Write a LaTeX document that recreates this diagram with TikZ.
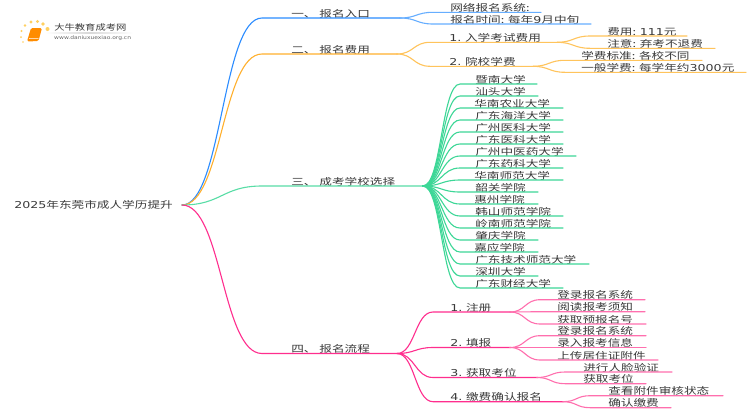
\documentclass[tikz,border=0pt]{standalone}
\usepackage{fontspec}
\setmainfont{Noto Sans CJK SC}
\newfontfamily\digitfont{DejaVu Sans}
\usetikzlibrary{calc}
\definecolor{txt}{HTML}{3A3A3A}
\definecolor{cblue}{HTML}{2B8CFF}
\definecolor{cblueb}{HTML}{66AEFF}
\definecolor{corange}{HTML}{FFB02E}
\definecolor{corangeb}{HTML}{FFC45C}
\definecolor{cgreen}{HTML}{58DDA6}
\definecolor{cgreenb}{HTML}{3DD797}
\definecolor{cpink}{HTML}{FF2E8E}
\definecolor{cpinkb}{HTML}{FF6FAE}
\definecolor{logoy}{HTML}{FFD060}
\tikzset{
  lbl/.style={anchor=west,inner sep=0pt,text=txt,font=\fontsize{9.5}{10}\selectfont,xscale=1.33,transform shape},
  wire/.style={line width=1.1pt,line cap=round},
}
% #1 name, #2 parent, #3 colour, #4 line start x, #5 line y, #6 line end x, #7 text x, #8 text
\newcommand\leaf[8]{%
  \coordinate (#1-s) at (#4,#5);
  \coordinate (#1) at (#6,#5);
  \node[lbl] (#1-t) at (#7,#5-4.5) {#8};
  \draw[wire,#3] let \p1=(#2),\p2=(#1-s) in
    (#2) .. controls ({(\x1+\x2)/2},\y1) and ({(\x1+\x2)/2},\y2) .. (#1-s) -- (#1);
}
\newcommand\dg[1]{{\digitfont #1}}
\begin{document}
\begin{tikzpicture}[x=1pt,y=-1pt]
\useasboundingbox (0,0) rectangle (750,410);
\fill[white] (0,0) rectangle (750,410);
% logo
\foreach \x/\y/\r in {21/37/1,21.5/31/1.2,25/25.5/1.4,31/22/1.6,37.5/21.5/1.7,43/24/1.8,47.5/29/2,23/42/0.9}
  \fill[logoy] (\x,\y) circle (\r);
\fill[orange!90!yellow,rounded corners=1.5pt] (31,28) -- (42,28) -- (38.5,41) -- (27,41.5) -- cycle;
\draw[white,line width=.5pt] (29,38.5) -- (38.5,38.3);
\shade[left color=white,right color=white,middle color=black!15,draw=none] (45,32.6) rectangle (133,33.4);
\node[lbl,font=\fontsize{8}{9}\selectfont,xscale=0.97] (logoa) at (54,27) {大牛教育成考网};
\node[lbl,font=\fontsize{5}{6}\selectfont\digitfont,xscale=0.9,text=black!60] (logob) at (54,38.5) {www.daniuxuexiao.org.cn};
% root
\node[lbl] (root-t) at (14,204.5) {\dg{2025}年东莞市成人学历提升};
\coordinate (root) at (182,205);
% level 1
\leaf{a}{root}{cblue}{262}{18}{400}{291}{一、 报名入口}
\leaf{b}{root}{corange}{262}{54}{397}{291}{二、 报名费用}
\leaf{c}{root}{cgreen}{262}{186}{423}{291}{三、 成考学校选择}
\leaf{d}{root}{cpink}{262}{353.5}{397}{291}{四、 报名流程}
% blue
\leaf{a1}{a}{cblueb}{433}{12.3}{541}{450}{网络报名系统:}
\leaf{a2}{a}{cblueb}{433}{24}{591}{450}{报名时间: 每年\dg{9}月中旬}
% orange
\leaf{b1}{b}{corangeb}{430}{42.3}{557}{449}{\dg{1.} 入学考试费用}
\leaf{b2}{b}{corangeb}{430}{66.3}{533}{449}{\dg{2.} 院校学费}
\leaf{b11}{b1}{corangeb}{590}{36}{687}{607}{费用: \dg{111}元}
\leaf{b12}{b1}{corangeb}{590}{48.3}{715}{607}{注意: 弃考不退费}
\leaf{b21}{b2}{corangeb}{565}{60.3}{702}{581}{学费标准: 各校不同}
\leaf{b22}{b2}{corangeb}{565}{72.3}{746}{581}{一般学费: 每学年约\dg{3000}元}
% green
\leaf{s1}{c}{cgreenb}{460}{84}{537}{475}{暨南大学}
\leaf{s2}{c}{cgreenb}{460}{96}{538}{475}{汕头大学}
\leaf{s3}{c}{cgreenb}{460}{108}{563}{474}{华南农业大学}
\leaf{s4}{c}{cgreenb}{460}{120}{563}{475}{广东海洋大学}
\leaf{s5}{c}{cgreenb}{460}{132}{563}{475}{广州医科大学}
\leaf{s6}{c}{cgreenb}{460}{144}{563}{475}{广东医科大学}
\leaf{s7}{c}{cgreenb}{460}{156}{576}{475}{广州中医药大学}
\leaf{s8}{c}{cgreenb}{460}{168}{563}{475}{广东药科大学}
\leaf{s9}{c}{cgreenb}{460}{180}{563}{474}{华南师范大学}
\leaf{s10}{c}{cgreenb}{460}{192}{538}{475}{韶关学院}
\leaf{s11}{c}{cgreenb}{460}{204}{538}{474}{惠州学院}
\leaf{s12}{c}{cgreenb}{460}{216}{563}{475}{韩山师范学院}
\leaf{s13}{c}{cgreenb}{460}{228}{563}{475}{岭南师范学院}
\leaf{s14}{c}{cgreenb}{460}{240}{538}{475}{肇庆学院}
\leaf{s15}{c}{cgreenb}{460}{252}{538}{474}{嘉应学院}
\leaf{s16}{c}{cgreenb}{460}{264}{589}{475}{广东技术师范大学}
\leaf{s17}{c}{cgreenb}{460}{276}{538}{475}{深圳大学}
\leaf{s18}{c}{cgreenb}{460}{288}{563}{475}{广东财经大学}
% pink
\leaf{d1}{d}{cpink}{433}{312}{510}{450}{\dg{1.} 注册}
\leaf{d2}{d}{cpink}{433}{347.5}{510}{450}{\dg{2.} 填报}
\leaf{d3}{d}{cpink}{433}{377.5}{537}{450}{\dg{3.} 获取考位}
\leaf{d4}{d}{cpink}{433}{401.7}{563}{450}{\dg{4.} 缴费确认报名}
\leaf{d11}{d1}{cpinkb}{540}{299.7}{645}{557}{登录报名系统}
\leaf{d12}{d1}{cpinkb}{540}{311.7}{645}{557}{阅读报考须知}
\leaf{d13}{d1}{cpinkb}{540}{324}{646}{557}{获取预报名号}
\leaf{d21}{d2}{cpinkb}{540}{335.7}{646}{557}{登录报名系统}
\leaf{d22}{d2}{cpinkb}{540}{347.5}{646}{557}{录入报考信息}
\leaf{d23}{d2}{cpinkb}{540}{360}{658}{557}{上传居住证附件}
\leaf{d31}{d3}{cpinkb}{565}{372}{672}{583}{进行人脸验证}
\leaf{d32}{d3}{cpinkb}{565}{383.7}{646}{583}{获取考位}
\leaf{d41}{d4}{cpinkb}{590}{395.7}{723}{608}{查看附件审核状态}
\leaf{d42}{d4}{cpinkb}{590}{407.7}{671}{608}{确认缴费}
\end{tikzpicture}
\end{document}
